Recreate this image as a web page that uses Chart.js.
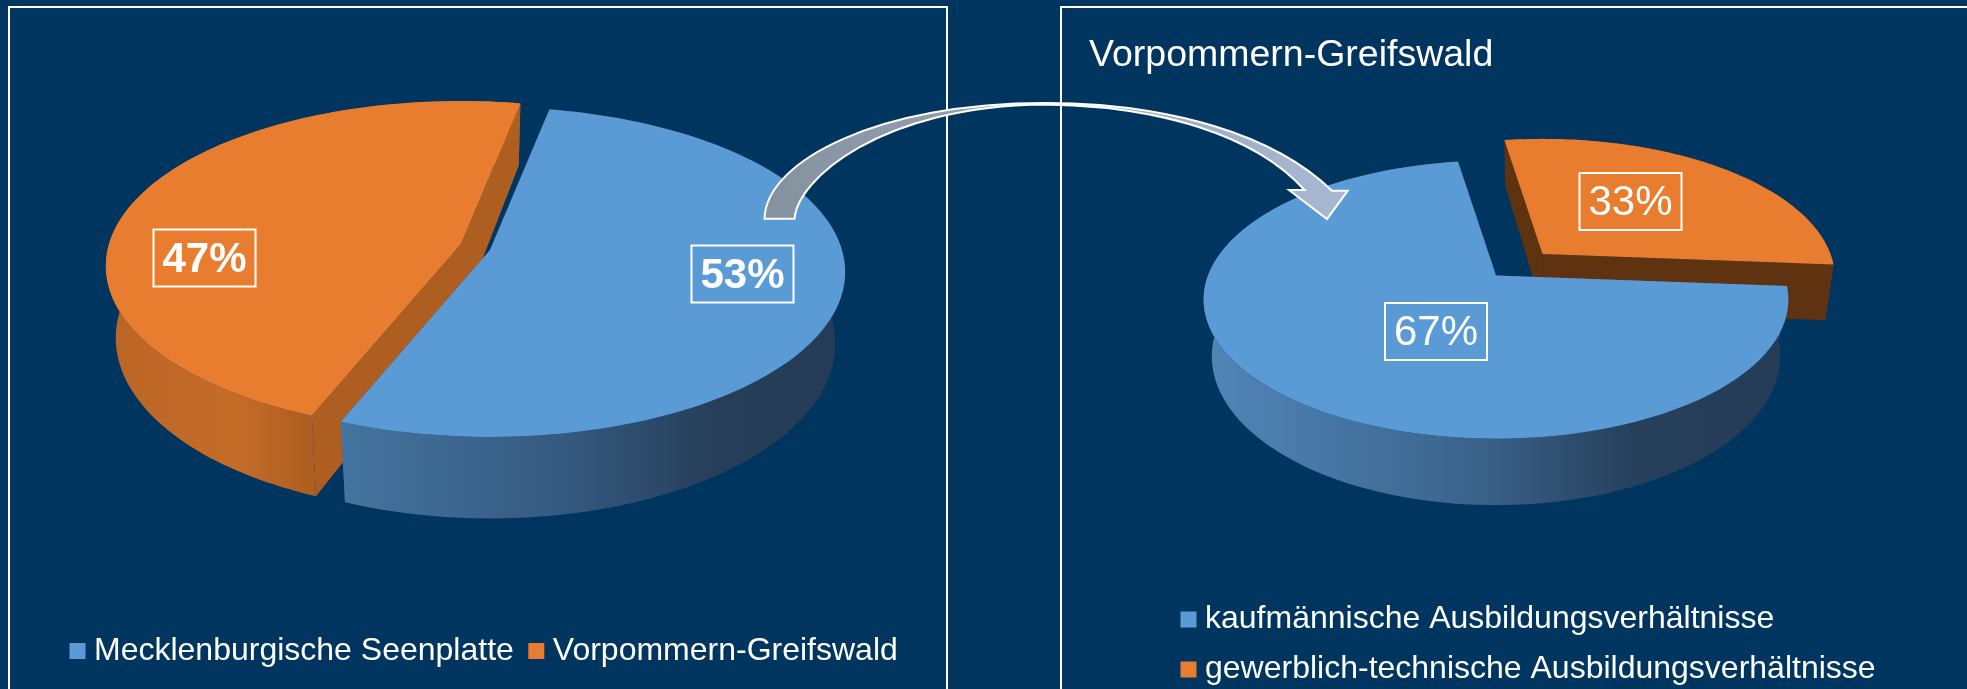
<!DOCTYPE html>
<html>
<head>
<meta charset="utf-8">
<style>
  html, body { margin: 0; padding: 0; width: 1967px; height: 689px; overflow: hidden; background: #003560; }
  canvas, svg, .panel { position: absolute; }
  .panel { border: 2px solid #fff; border-bottom: none; top: 6px; height: 690px; box-sizing: border-box; }
</style>
<script src="https://cdn.jsdelivr.net/npm/chart.js@4"></script>
</head>
<body>
<div class="panel" style="left:8px;width:940px"></div>
<div class="panel" style="left:1060px;width:920px"></div>
<canvas id="left" width="966" height="689" style="left:0;top:0"></canvas>
<canvas id="right" width="987" height="689" style="left:980px;top:0"></canvas>
<svg width="1967" height="689" style="left:0;top:0">
  <defs>
    <linearGradient id="arrowFill" x1="765" x2="1348" y1="0" y2="0" gradientUnits="userSpaceOnUse">
      <stop offset="0" stop-color="#86919F"/>
      <stop offset="1" stop-color="#A9B8D3"/>
    </linearGradient>
  </defs>
  <path fill="url(#arrowFill)" stroke="#fff" stroke-width="2" stroke-linejoin="miter"
    d="M764.5 218.7 C766 160 880 103 1044.5 103 C1170 103 1275 135 1332 190.7 L1347.7 190.7 L1327 219 L1289 190 L1304.6 190 C1255 135 1160 106 1044.5 104.5 C880 106 797 180 794.6 218.7 Z"/>
</svg>
<script>
const leftCategories = ['Mecklenburgische Seenplatte', 'Vorpommern-Greifswald']
const leftValues = [53, 47]
const rightCategories = ['kaufmännische Ausbildungsverhältnisse', 'gewerblich-technische Ausbildungsverhältnisse']
const rightValues = [67, 33]
const rightTitle = 'Vorpommern-Greifswald'
const colours = ['#5B9BD5', '#E97D2F']

const fontFamily = '"Liberation Sans", Arial, sans-serif'
const blueWall = [[0, '#44749F'], [0.45, '#35597F'], [0.75, '#263E59'], [1, '#253C56']]

// tilted disc: maps the arc elements' angles onto the picture plane
function point (s, g, angle, bottom) {
  const u = Math.cos(angle)
  const v = Math.sin(angle)
  const w = 1 - g.k * v
  const x = g.rx * u / w
  const y = g.ry * v / w
  if (bottom) return [s.cx + x * g.shrink, s.cy + y + g.depth / w]
  return [s.cx + x, s.cy + y]
}

function warp (g, a) {
  return a - g.warp * Math.sin(2 * (a - g.warpAt))
}

function polygon (ctx, pts, fill) {
  ctx.beginPath()
  pts.forEach((p, i) => (i ? ctx.lineTo(p[0], p[1]) : ctx.moveTo(p[0], p[1])))
  ctx.closePath()
  ctx.fillStyle = fill
  ctx.fill()
}

const pie3d = {
  id: 'pie3d',
  afterLayout (chart, args, opts) {
    chart.legend.left = opts.legendAt[0]
    chart.legend.top = opts.legendAt[1]
  },
  beforeDatasetDraw (chart, args, opts) {
    const ctx = chart.ctx
    const g = opts.geometry
    const arcs = chart.getDatasetMeta(0).data
    for (let i = arcs.length - 1; i >= 0; i--) {
      const s = opts.slices[i]
      const a0 = arcs[i].startAngle
      const a1 = arcs[i].endAngle
      const angles = []
      for (let n = 0; n <= 120; n++) angles.push(warp(g, a0 + (a1 - a0) * n / 120))
      const apexTop = [s.cx, s.cy]
      const apexBottom = [s.cx, s.cy + g.depth]
      const top = angles.map(a => point(s, g, a, false))
      const bottom = angles.map(a => point(s, g, a, true))

      polygon(ctx, [apexTop, top[0], bottom[0], apexBottom], s.cut)
      polygon(ctx, [apexTop, top[120], bottom[120], apexBottom], s.cut)

      const grad = ctx.createLinearGradient(s.wallFrom, 0, s.wallTo, 0)
      s.wall.forEach(c => grad.addColorStop(c[0], c[1]))
      polygon(ctx, top.concat(bottom.slice().reverse()), grad)

      polygon(ctx, [apexTop].concat(top), colours[i])
    }
    return false
  },
  afterDatasetsDraw (chart, args, opts) {
    const ctx = chart.ctx
    const values = chart.data.datasets[0].data
    values.forEach((value, i) => {
      const box = opts.boxes[i]
      ctx.strokeStyle = '#fff'
      ctx.lineWidth = 2
      ctx.strokeRect(box[0] - 51, box[1] - 28.5, 102, 57)
      ctx.fillStyle = '#fff'
      ctx.font = opts.weight + ' 42px ' + fontFamily
      ctx.textAlign = 'center'
      ctx.textBaseline = 'middle'
      ctx.fillText(value + '%', box[0], box[1] + 2)
    })
  }
}

function legendOptions (padding) {
  return {
    position: 'bottom',
    align: 'start',
    labels: {
      color: '#fff',
      font: { family: fontFamily, size: 32 },
      usePointStyle: true,
      pointStyle: 'rect',
      boxWidth: 1,
      boxHeight: 16,
      padding: padding
    }
  }
}

function build (id, categories, values, rotation, extraPlugins, pieOptions) {
  return new Chart(document.getElementById(id).getContext('2d'), {
    type: 'pie',
    data: {
      labels: categories,
      datasets: [{ data: values, backgroundColor: colours, borderWidth: 0 }]
    },
    plugins: [pie3d],
    options: {
      responsive: false,
      animation: false,
      rotation: rotation,
      events: [],
      layout: { padding: { left: pieOptions.titleLeft } },
      plugins: Object.assign({ tooltip: { enabled: false }, pie3d: pieOptions }, extraPlugins)
    }
  })
}

build('left', leftCategories, leftValues, 11, {
  legend: legendOptions(22)
}, {
  geometry: { k: 0.1334, rx: 352, ry: 162, depth: 70.6, shrink: 0.972, warp: 0, warpAt: 0 },
  slices: [
    { cx: 490, cy: 250, cut: '#35597F', wall: blueWall, wallFrom: 342, wallTo: 840 },
    { cx: 461, cy: 244, cut: '#AE5E21', wall: [[0, '#BB6526'], [0.6, '#C66C29'], [1, '#AE5E21']], wallFrom: 118, wallTo: 310 }
  ],
  boxes: [[742.5, 274], [204.5, 258]],
  legendAt: [55, 613],
  titleLeft: 0,
  weight: 'bold'
})

build('right', rightCategories, rightValues, 102.15, {
  legend: legendOptions(18),
  title: {
    display: true,
    text: rightTitle,
    align: 'start',
    color: '#fff',
    font: { family: fontFamily, size: 37.5, weight: 'normal' },
    padding: { top: 33, bottom: 0 }
  }
}, {
  geometry: { k: 0.1726, rx: 288, ry: 135, depth: 55, shrink: 0.972, warp: 8.85 * Math.PI / 180, warpAt: -47.25 * Math.PI / 180 },
  slices: [
    { cx: 516, cy: 275.5, cut: '#35597F', wall: [[0, '#5085B8'], [0.45, '#3C648C'], [0.75, '#263F5B'], [1, '#253C56']], wallFrom: 232, wallTo: 800 },
    { cx: 562.5, cy: 254, cut: '#5F3210', wall: [[0, '#5F3210'], [1, '#5F3210']], wallFrom: 500, wallTo: 850 }
  ],
  boxes: [[456, 331.5], [650.5, 201.5]],
  legendAt: [190, 585.5],
  titleLeft: 109,
  weight: 'normal'
})
</script>
</body>
</html>
